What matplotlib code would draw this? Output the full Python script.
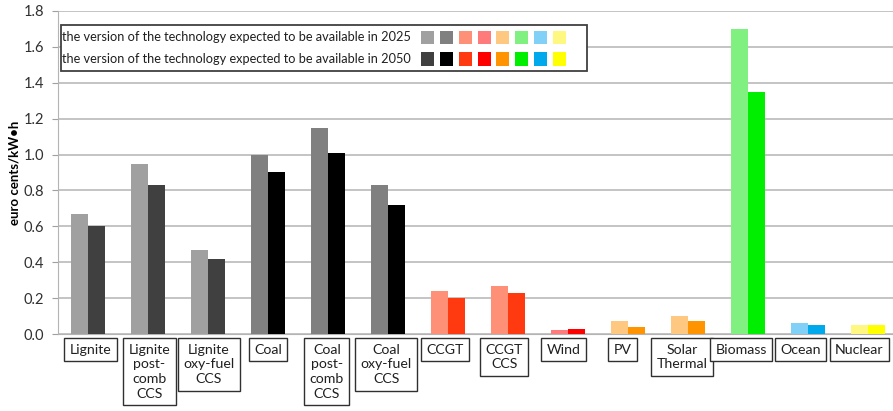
import matplotlib.pyplot as plt
from matplotlib.patches import Rectangle
from matplotlib.transforms import blended_transform_factory

plt.rcParams["font.family"] = ["Lato", "DejaVu Sans"]

categories = [
    "Lignite", "Lignite\npost-\ncomb\nCCS", "Lignite\noxy-fuel\nCCS", "Coal",
    "Coal\npost-\ncomb\nCCS", "Coal\noxy-fuel\nCCS", "CCGT", "CCGT\nCCS", "Wind",
    "PV", "Solar\nThermal", "Biomass", "Ocean", "Nuclear",
]
cost_2025 = [0.67, 0.95, 0.47, 1.00, 1.15, 0.83, 0.24, 0.27, 0.02, 0.07, 0.10, 1.70, 0.06, 0.05]
cost_2050 = [0.60, 0.83, 0.42, 0.90, 1.01, 0.72, 0.20, 0.23, 0.03, 0.04, 0.07, 1.35, 0.05, 0.05]

# colour families: lignite, coal, gas, wind, solar, biomass, ocean, nuclear
family_2025 = ["#a0a0a0", "#808080", "#ff9078", "#ff7a7a", "#ffc880", "#80f080", "#80d0f8", "#fff880"]
family_2050 = ["#404040", "#000000", "#ff3a10", "#ff0000", "#ff9400", "#00ee00", "#00a8ec", "#ffff00"]
category_family = [0, 0, 0, 1, 1, 1, 2, 2, 3, 4, 4, 5, 6, 7]

legend_labels = [
    "the version of the technology expected to be available in 2025",
    "the version of the technology expected to be available in 2050",
]

fig = plt.figure(figsize=(8.93, 4.11), dpi=100)
ax = fig.add_axes([58 / 893, 77 / 411, 1 - 58 / 893, 323 / 411])

x = list(range(len(categories)))
w = 0.285
ax.bar([i - w / 2 for i in x], cost_2025, width=w,
       color=[family_2025[f] for f in category_family], zorder=3)
ax.bar([i + w / 2 for i in x], cost_2050, width=w,
       color=[family_2050[f] for f in category_family], zorder=3)

ax.set_xlim(-0.5, 13.42)
ax.set_ylim(0, 1.8)
ax.set_yticks([0, 0.2, 0.4, 0.6, 0.8, 1.0, 1.2, 1.4, 1.6, 1.8])
ax.set_yticklabels([f"{v:.1f}" for v in ax.get_yticks()], fontsize=10.5, color="#303030")
ax.tick_params(axis="y", length=4, color="#a0a0a0", pad=6)
ax.set_xticks([])
ax.grid(axis="y", color="#b4b4b4", linewidth=1.1, zorder=0)
for side in ["top", "right"]:
    ax.spines[side].set_visible(False)
ax.spines["left"].set_color("#b4b4b4")
ax.spines["bottom"].set_color("#b4b4b4")
ax.set_ylabel("euro cents/kW\u2022h", fontsize=9.5, fontweight="bold", labelpad=2)

# boxed category names under the axis (slightly tighter spacing than the bars)
trans = blended_transform_factory(ax.transData, ax.transAxes)
for i, name in enumerate(categories):
    ax.text(0.04 + i * 0.986, -0.03, name, transform=trans, ha="center", va="top",
            fontsize=10.2, color="#202020", linespacing=1.28,
            bbox=dict(boxstyle="square,pad=0.38", facecolor="white",
                      edgecolor="#303030", linewidth=1.0))

# legend box with one swatch per colour family
ax.add_patch(Rectangle((0.003, 0.815), 0.63, 0.143, transform=ax.transAxes,
                       facecolor="white", edgecolor="#404040", linewidth=1.3, zorder=5))
for row, (label, colours) in enumerate([(legend_labels[0], family_2025),
                                         (legend_labels[1], family_2050)]):
    y = 0.918 - row * 0.066
    ax.text(0.005, y, label, transform=ax.transAxes, ha="left", va="center",
            fontsize=9.2, color="#202020", zorder=6)
    for k, c in enumerate(colours):
        ax.add_patch(Rectangle((0.435 + k * 0.0225, y - 0.021), 0.0155, 0.042,
                               transform=ax.transAxes, facecolor=c,
                               edgecolor="none", zorder=6))

fig.savefig("out.png", dpi=100)
